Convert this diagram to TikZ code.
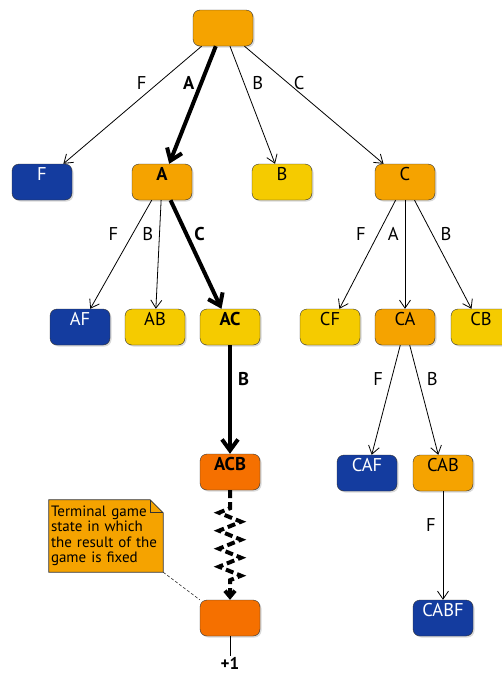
\documentclass[tikz,border=0pt]{standalone}
\usepackage{fontspec}
\setmainfont{PT Sans}
\usetikzlibrary{arrows.meta,shadows,decorations.pathmorphing,backgrounds}

\definecolor{midorange}{HTML}{F5A300}
\definecolor{goldyellow}{HTML}{F5CB00}
\definecolor{deepblue}{HTML}{143C9F}
\definecolor{hotorange}{HTML}{F57000}

\tikzset{
  state/.style={draw=black!80, rounded corners=7pt, minimum width=60pt,
    inner ysep=2pt, text height=14pt, text depth=18pt,
    font=\fontsize{18.5}{18.5}\selectfont,
    drop shadow={shadow xshift=1.5pt, shadow yshift=-1.5pt, opacity=0.3}},
  orangestate/.style={state, fill=midorange},
  yellowstate/.style={state, fill=goldyellow},
  bluestate/.style={state, fill=deepblue, text=white},
  endstate/.style={state, fill=hotorange},
  move/.style={line width=0.8pt, -{Straight Barb[length=8pt,width=11pt]}},
  bestmove/.style={line width=4pt, -{Straight Barb[length=11pt,width=16pt]}},
  lbl/.style={pos=0.31, inner sep=2pt, font=\fontsize{18.5}{18.5}\selectfont},
  lblb/.style={lbl, font=\fontsize{18.5}{18.5}\selectfont\bfseries},
  jump/.style={line width=4pt, dash pattern=on 8pt off 4pt,
    decorate, decoration={zigzag, mirror, segment length=18pt, amplitude=11pt,
      pre length=18pt, post length=14pt}},
}

\begin{document}
\begin{tikzpicture}[x=1pt,y=-1pt]
    \useasboundingbox (0,0) rectangle (502,673);

    % states
    \node[orangestate] (root) at (223,28) {};
    \node[bluestate] (F) at (42,182) {F};
    \node[orangestate] (A) at (162,182) {\bfseries A};
    \node[yellowstate] (B) at (282,182) {B};
    \node[orangestate] (C) at (405,182) {C};
    \node[bluestate] (AF) at (80,327) {AF};
    \node[yellowstate] (AB) at (155,327) {AB};
    \node[yellowstate] (AC) at (230,327) {\bfseries AC};
    \node[yellowstate] (CF) at (330,327) {CF};
    \node[orangestate] (CA) at (405,327) {CA};
    \node[yellowstate] (CB) at (481,327) {CB};
    \node[endstate] (ACB) at (230,472) {\bfseries ACB};
    \node[bluestate] (CAF) at (367,473) {CAF};
    \node[orangestate] (CAB) at (443,473) {CAB};
    \node[endstate] (term) at (230,618) {};
    \node[bluestate] (CABF) at (443,618) {CABF};
    \node[anchor=north, inner sep=1pt, font=\fontsize{17}{17}\selectfont\bfseries] (score) at (230,656) {+1};

    % note
    \node[minimum width=114pt, minimum height=72pt, text width=110pt, align=left,
      inner sep=2pt, font=\fontsize{15}{15.5}\selectfont] (note) at (106,536)
      {Terminal game\\state in which\\the result of the\\game is fixed};
    \begin{pgfonlayer}{background}
    \filldraw[fill=midorange, draw=black!80, line width=0.7pt] (note.north west) -- ([xshift=-13pt]note.north east)
      -- ([yshift=-13pt]note.north east) -- (note.south east) -- (note.south west) -- cycle;
    \end{pgfonlayer}
    \draw[line width=0.7pt, black!80] ([xshift=-13pt]note.north east) |- ([yshift=-13pt]note.north east);
    \draw[dash pattern=on 3pt off 2pt, line width=0.6pt, black!80] (note.south east) -- (term.north west);

    % moves
    \draw[move] (root) -- node[lbl, left=10pt] {F} (F);
    \draw[bestmove] (root) -- node[lblb, left=3pt] {A} (A);
    \draw[move] (root) -- node[lbl, right=6pt] {B} (B);
    \draw[move] (root) -- node[lbl, right=4pt] {C} (C);

    \draw[move] (A) -- node[lbl, left=12pt] {F} (AF);
    \draw[move] (A) -- node[lbl, left=4pt] {B} (AB);
    \draw[bestmove] (A) -- node[lblb, right=4pt] {C} (AC);

    \draw[move] (C) -- node[lbl, left=10pt] {F} (CF);
    \draw[move] (C) -- node[lbl, left=4pt] {A} (CA);
    \draw[move] (C) -- node[lbl, right=6pt] {B} (CB);

    \draw[bestmove] (AC) -- node[lblb, right=4pt] {B} (ACB);
    \draw[move] (CA) -- node[lbl, left=6pt] {F} (CAF);
    \draw[move] (CA) -- node[lbl, right=6pt] {B} (CAB);
    \draw[move] (CAB) -- node[lbl, left=5pt] {F} (CABF);

    \draw[jump, -{Straight Barb[length=6pt,width=10pt]}] (ACB) -- (term);
    \draw[line width=0.8pt] (term) -- (score);
\end{tikzpicture}
\end{document}
